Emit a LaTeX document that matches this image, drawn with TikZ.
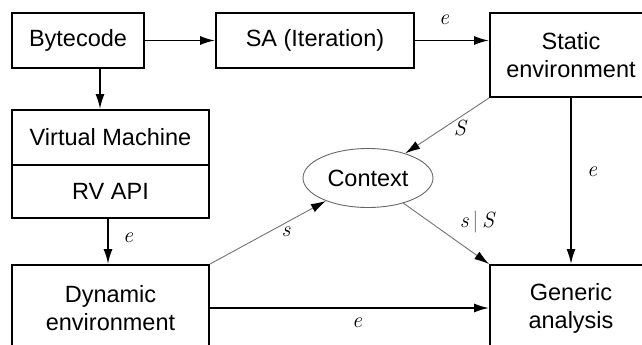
\documentclass[tikz,border=0pt]{standalone}
\usepackage{fontspec}
\newfontfamily\boxfont{Liberation Sans}
\usetikzlibrary{arrows.meta,shapes.geometric}
\begin{document}
\begin{tikzpicture}[x=1pt,y=-1pt,
  box/.style={draw, line width=1.8pt, rectangle, inner sep=0pt, align=center,
    font=\boxfont\fontsize{23.5}{28}\selectfont},
  arr/.style={line width=1.8pt, -{Latex[length=15pt,width=9pt]}},
  garr/.style={line width=0.9pt, draw=black!55, -{Latex[length=15pt,width=9pt,color=black]}},
  lab/.style={font=\itshape\fontsize{22}{22}\selectfont, inner sep=0pt}]
  \useasboundingbox (0,0) rectangle (642,345);
  \clip (0,0) rectangle (642,345);

  % boxes
  \node[box, minimum width=132pt, minimum height=55pt] (byte) at (78,40.5) {Bytecode};
  \node[box, minimum width=198pt, minimum height=55pt] (sa) at (315,40.5) {SA (Iteration)};
  \node[box, minimum width=162pt, minimum height=84pt] (static) at (571,55) {Static\\environment};
  \node[box, minimum width=197pt, minimum height=55pt] (vm) at (110.5,137.5) {Virtual Machine};
  \node[box, minimum width=197pt, minimum height=53pt] (rv) at (110.5,191.5) {RV API};
  \node[box, minimum width=197pt, minimum height=86pt] (dyn) at (110.5,308) {Dynamic\\environment};
  \node[box, minimum width=162pt, minimum height=86pt] (gen) at (571,308) {Generic\\analysis};
  \node[draw=black!60, line width=0.9pt, ellipse, minimum width=130pt, minimum height=59pt,
    inner sep=0pt, font=\boxfont\fontsize{23.5}{28}\selectfont] (ctx) at (368,178) {Context};

  % data flow
  \draw[arr] (byte) -- (sa);
  \draw[arr] (sa.east) -- (sa.east -| static.west);
  \draw[arr] ([xshift=22pt]byte.south) -- ([xshift=22pt]byte.south |- vm.north);
  \draw[arr] ([xshift=-2.5pt]rv.south) -- ([xshift=-2.5pt]rv.south |- dyn.north);
  \draw[arr] (static.south) -- (gen.north);
  \draw[arr] (dyn.east) -- (gen.west);
  \draw[garr] (static.south west) -- (ctx);
  \draw[garr] (dyn.north east) -- (ctx);
  \draw[garr] (ctx) -- (gen.north west);

  % edge labels
  \node[lab] (l1) at (444,20) {e};
  \node[lab] (l2) at (128,238) {e};
  \node[lab] (l3) at (592,172) {e};
  \node[lab] (l4) at (357,323) {e};
  \node[lab] (l5) at (460,128) {S};
  \node[lab] (l6) at (286,232) {s};
  \node[lab] (l7) at (477,222) {s\,{\upshape\color{black!60}|}\,S};
\end{tikzpicture}
\end{document}
